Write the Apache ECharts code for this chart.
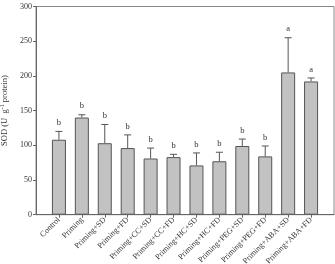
<!DOCTYPE html>
<html>
<head>
<meta charset="utf-8">
<script src="https://cdn.jsdelivr.net/npm/echarts@6/dist/echarts.min.js"></script>
<style>
  html, body { margin: 0; padding: 0; background: #fff; }
  #chart { width: 335px; height: 264px; }
</style>
</head>
<body>
<div id="chart"></div>
<script>
// 处理组别
const groups = ["Control", "Priming", "Priming+SD", "Priming+FD", "Priming+CC+SD", "Priming+CC+FD",
  "Priming+HC+SD", "Priming+HC+FD", "Priming+PEG+SD", "Priming+PEG+FD", "Priming+ABA+SD", "Priming+ABA+FD"];
// SOD 均值
const sodMean = [108, 140, 103, 96, 81, 83, 71, 77, 99, 84, 205, 192];
// 误差上限
const sodErrTop = [120, 144, 130, 115, 96, 87, 89, 90, 109, 99, 255, 197];
// 显著性字母
const sigLetters = ["b", "b", "b", "b", "b", "b", "b", "b", "b", "b", "a", "a"];
const yTicks = [0, 50, 100, 150, 200, 250, 300];

const font = "Liberation Serif";
let chart = echarts.init(document.getElementById("chart"));

const barData = sodMean.map((v, i) => [i, v]);
const errData = sodMean.map((v, i) => [i, v, sodErrTop[i]]);

const option = {
  animation: false,
  grid: {
    left: 36,
    right: 1,
    top: 6.5,
    bottom: 49.3,
    outerBoundsMode: "none",
    show: true,
    borderColor: "#888",
    borderWidth: 1,
  },
  xAxis: {
    type: "value",
    min: -1,
    max: 12,
    interval: 1,
    splitLine: { show: false },
    axisLine: { onZero: false, lineStyle: { color: "#666" } },
    axisTick: { length: 3, lineStyle: { color: "#666" } },
    axisLabel: {
      rotate: 45,
      margin: 4,
      fontFamily: font,
      fontSize: 8,
      color: "#333",
      showMinLabel: false,
      showMaxLabel: false,
      formatter: (v) => groups[v] || "",
    },
  },
  yAxis: {
    type: "value",
    min: yTicks[0],
    max: yTicks[yTicks.length - 1],
    interval: 50,
    splitLine: { show: false },
    axisLine: { show: true, onZero: false, lineStyle: { color: "#666" } },
    axisTick: { show: true, length: 3, lineStyle: { color: "#666" } },
    axisLabel: { fontFamily: font, fontSize: 8, color: "#333", margin: 4 },
    name: "{a|SOD (U  g}{s|-1}{a| protein)}",
    nameLocation: "middle",
    nameGap: 25,
    nameTextStyle: {
      align: "center",
      verticalAlign: "middle",
      rich: {
        a: { fontFamily: font, fontSize: 8.5, color: "#333" },
        s: { fontFamily: font, fontSize: 6, color: "#333", verticalAlign: "top", padding: [0, 0, 4, 0] },
      },
    },
  },
  series: [
    {
      type: "bar",
      data: barData,
      barWidth: 14,
      itemStyle: { color: "#c2c2c2", borderColor: "#555", borderWidth: 1 },
    },
    {
      type: "custom",
      data: errData,
      z: 5,
      renderItem: function (params, api) {
        const p0 = api.coord([api.value(0), api.value(1)]);
        const p1 = api.coord([api.value(0), api.value(2)]);
        const x = p0[0];
        const style = { stroke: "#555", lineWidth: 1 };
        return {
          type: "group",
          children: [
            { type: "line", shape: { x1: x, y1: p0[1], x2: x, y2: p1[1] }, style: style },
            { type: "line", shape: { x1: x - 3.5, y1: p1[1], x2: x + 3.5, y2: p1[1] }, style: style },
            {
              type: "text",
              style: {
                text: sigLetters[params.dataIndex],
                x: x,
                y: p1[1] - 4,
                align: "center",
                verticalAlign: "bottom",
                fontFamily: font,
                fontSize: 8.5,
                fill: "#333",
              },
            },
          ],
        };
      },
    },
  ],
};
chart.setOption(option);
</script>
</body>
</html>
